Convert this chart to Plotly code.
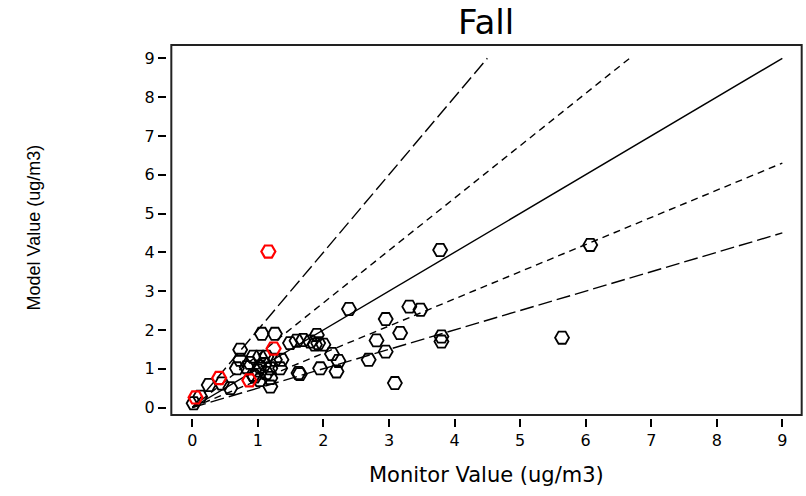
import plotly.graph_objects as go

# Black (regular) sites: monitor vs model values
mon_black = [2.39, 3.31, 3.48, 2.95, 3.17, 2.81, 3.80, 3.80, 2.95, 2.69,
             2.13, 2.23, 1.95, 2.20, 3.09, 1.90, 1.80, 1.87, 1.69, 1.64,
             1.06, 1.26, 1.49, 1.59, 1.92, 2.00, 0.73, 0.73, 0.93, 1.03,
             1.13, 1.26, 1.36, 0.68, 0.83, 1.03, 1.19, 1.34, 0.93, 1.13,
             1.19, 1.03, 1.62, 0.58, 1.19, 0.25, 0.02, 0.12, 3.78, 6.07,
             5.64, 0.88, 1.00, 0.45, 0.95, 1.10]
mod_black = [2.54, 2.60, 2.52, 2.28, 1.92, 1.73, 1.83, 1.70, 1.44, 1.23,
             1.38, 1.20, 1.01, 0.93, 0.63, 1.87, 1.70, 1.62, 1.74, 0.86,
             1.90, 1.90, 1.66, 1.72, 1.66, 1.62, 1.49, 1.23, 1.31, 1.31,
             1.31, 1.23, 1.23, 1.01, 1.04, 1.06, 1.01, 1.01, 0.84, 0.89,
             0.76, 0.71, 0.89, 0.50, 0.54, 0.58, 0.11, 0.28, 4.06, 4.19,
             1.80, 1.15, 0.95, 0.62, 0.80, 1.12]

# Red (highlighted) sites
mon_red = [1.16, 1.24, 0.41, 0.87, 0.05]
mod_red = [4.02, 1.52, 0.76, 0.70, 0.26]

# Reference lines (endpoints)
line_11_x = [0, 9];    line_11_y = [0, 9]
line_2x_x = [0, 4.5];  line_2x_y = [0, 9]
line_05_x = [0, 9];    line_05_y = [0, 4.5]
line_hi_x = [0, 6.67]; line_hi_y = [0, 9]
line_lo_x = [0, 9];    line_lo_y = [0, 6.3]

ticks = [0, 1, 2, 3, 4, 5, 6, 7, 8, 9]
tick_text = [str(t) for t in ticks]

fig = go.Figure()

lw = 1.4
fig.add_trace(go.Scatter(x=line_11_x, y=line_11_y, mode="lines",
                         line=dict(color="black", width=lw), showlegend=False))
fig.add_trace(go.Scatter(x=line_2x_x, y=line_2x_y, mode="lines",
                         line=dict(color="black", width=lw, dash="14px,5px"), showlegend=False))
fig.add_trace(go.Scatter(x=line_05_x, y=line_05_y, mode="lines",
                         line=dict(color="black", width=lw, dash="14px,5px"), showlegend=False))
fig.add_trace(go.Scatter(x=line_hi_x, y=line_hi_y, mode="lines",
                         line=dict(color="black", width=lw, dash="7px,5px"), showlegend=False))
fig.add_trace(go.Scatter(x=line_lo_x, y=line_lo_y, mode="lines",
                         line=dict(color="black", width=lw, dash="7px,5px"), showlegend=False))

fig.add_trace(go.Scatter(x=mon_black, y=mod_black, mode="markers",
                         marker=dict(symbol="hexagon2-open", size=14, color="black",
                                     line=dict(width=1.8, color="black")),
                         showlegend=False))
fig.add_trace(go.Scatter(x=mon_red, y=mod_red, mode="markers",
                         marker=dict(symbol="hexagon2-open", size=14, color="red",
                                     line=dict(width=2.2, color="red")),
                         showlegend=False))

tickfont = dict(family="DejaVu Sans", size=16, color="black")

fig.update_xaxes(range=[-0.386, 9.30], tickvals=ticks, ticktext=tick_text,
                 showgrid=False, zeroline=False, showline=False,
                 ticks="outside", ticklen=8, tickwidth=1.5, tickcolor="black",
                 tickfont=tickfont)
fig.update_yaxes(range=[-0.27, 9.343], tickvals=ticks, ticktext=tick_text,
                 showgrid=False, zeroline=False, showline=False,
                 ticks="outside", ticklen=8, tickwidth=1.5, tickcolor="black",
                 tickfont=tickfont)

fig.update_layout(
    width=806, height=496,
    margin=dict(l=167, r=4, t=45, b=78),
    paper_bgcolor="white", plot_bgcolor="white",
    shapes=[dict(type="rect", xref="paper", yref="paper",
                 x0=0.0068, x1=0.9995, y0=0.008, y1=1.0,
                 line=dict(color="#222", width=2), layer="above")],
    annotations=[
        dict(text="Fall", xref="paper", yref="paper", x=0.503, y=1.0,
             yshift=23, xanchor="center", yanchor="middle", showarrow=False,
             font=dict(family="DejaVu Sans", size=34, color="black")),
        dict(text="Monitor Value (ug/m3)", xref="paper", yref="paper",
             x=0.503, y=0, yshift=-57, xanchor="center", yanchor="middle",
             showarrow=False,
             font=dict(family="DejaVu Sans", size=21, color="black")),
        dict(text="Model Value (ug/m3)", xref="paper", yref="paper",
             x=0, xshift=-134, y=0.5, yshift=4, xanchor="center", yanchor="middle",
             textangle=-90, showarrow=False,
             font=dict(family="Liberation Sans Narrow, Liberation Sans", size=18,
                       color="black")),
    ],
)

fig.write_html("out.html")
